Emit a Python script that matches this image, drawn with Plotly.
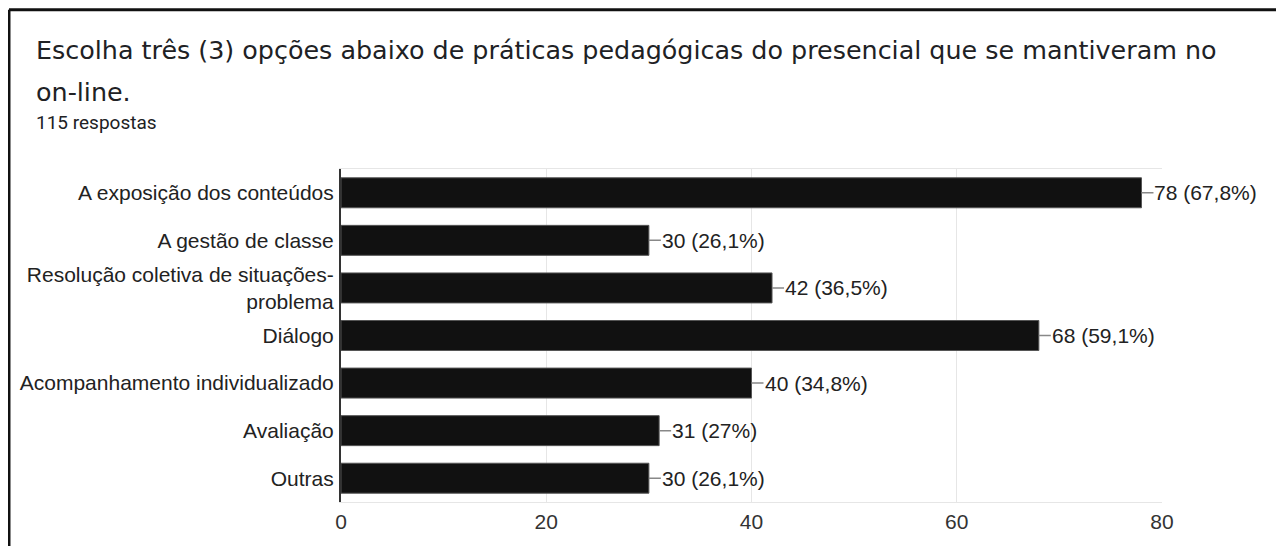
import plotly.graph_objects as go

categories = [
    "A exposição dos conteúdos",
    "A gestão de classe",
    "Resolução coletiva de situações-<br>problema",
    "Diálogo",
    "Acompanhamento individualizado",
    "Avaliação",
    "Outras",
]
counts = [78, 30, 42, 68, 40, 31, 30]
percents = ["67,8%", "26,1%", "36,5%", "59,1%", "34,8%", "27%", "26,1%"]
x_ticks = [0, 20, 40, 60, 80]

LABEL_FONT = dict(family="Liberation Sans, Arial, sans-serif", size=21, color="#222222")

fig = go.Figure(
    go.Bar(
        x=counts,
        y=categories,
        orientation="h",
        marker=dict(color="#111111", line=dict(color="#555555", width=1)),
        hoverinfo="skip",
    )
)

# value labels with a short grey leader line
for cat, n, p in zip(categories, counts, percents):
    fig.add_annotation(
        x=n, y=cat, xref="x", yref="y",
        text=f"{n} ({p})",
        showarrow=True, arrowhead=0, arrowwidth=1.5, arrowcolor="#888888",
        ax=12, ay=0, xanchor="left", borderpad=0, standoff=0,
        font=LABEL_FONT,
    )

# header text
TITLE_FONT = dict(family="DejaVu Sans", size=25.4, color="#202124")
fig.add_annotation(
    x=-0.374, y=1.357, xref="paper", yref="paper", xanchor="left", yanchor="middle",
    text="Escolha três (3) opções abaixo de práticas pedagógicas do presencial que se mantiveram no",
    showarrow=False, font=TITLE_FONT,
)
fig.add_annotation(
    x=-0.374, y=1.231, xref="paper", yref="paper", xanchor="left", yanchor="middle",
    text="on-line.",
    showarrow=False, font=TITLE_FONT,
)
fig.add_annotation(
    x=-0.374, y=1.141, xref="paper", yref="paper", xanchor="left", yanchor="middle",
    text="115 respostas",
    showarrow=False, font=dict(family="Roboto", size=19, color="#202124"),
)

# card border (left and top edges)
fig.add_shape(type="line", xref="paper", yref="paper", x0=-0.4044, x1=-0.4044, y0=-0.3, y1=1.478,
              line=dict(color="#111111", width=3))
fig.add_shape(type="line", xref="paper", yref="paper", x0=-0.4044, x1=1.3, y0=1.478, y1=1.478,
              line=dict(color="#111111", width=3))

fig.update_layout(
    width=1268, height=538,
    margin=dict(l=333, r=114, t=161, b=44),
    paper_bgcolor="white", plot_bgcolor="white",
    bargap=0.37,
    showlegend=False,
    font=LABEL_FONT,
)
fig.update_xaxes(
    range=[0, 80], tickvals=x_ticks, showgrid=True, gridcolor="#e6e6e6", gridwidth=1,
    showline=True, linecolor="#e6e6e6", mirror=True, zeroline=False,
    tickfont=dict(family="Liberation Sans, Arial, sans-serif", size=21, color="#333333"),
    ticks="", ticklabelstandoff=1,
)
fig.update_yaxes(
    autorange="reversed", showline=True, linecolor="#333333", linewidth=2,
    ticks="", ticklabelstandoff=1, showgrid=False,
    tickfont=LABEL_FONT,
)

fig.write_html("out.html")
